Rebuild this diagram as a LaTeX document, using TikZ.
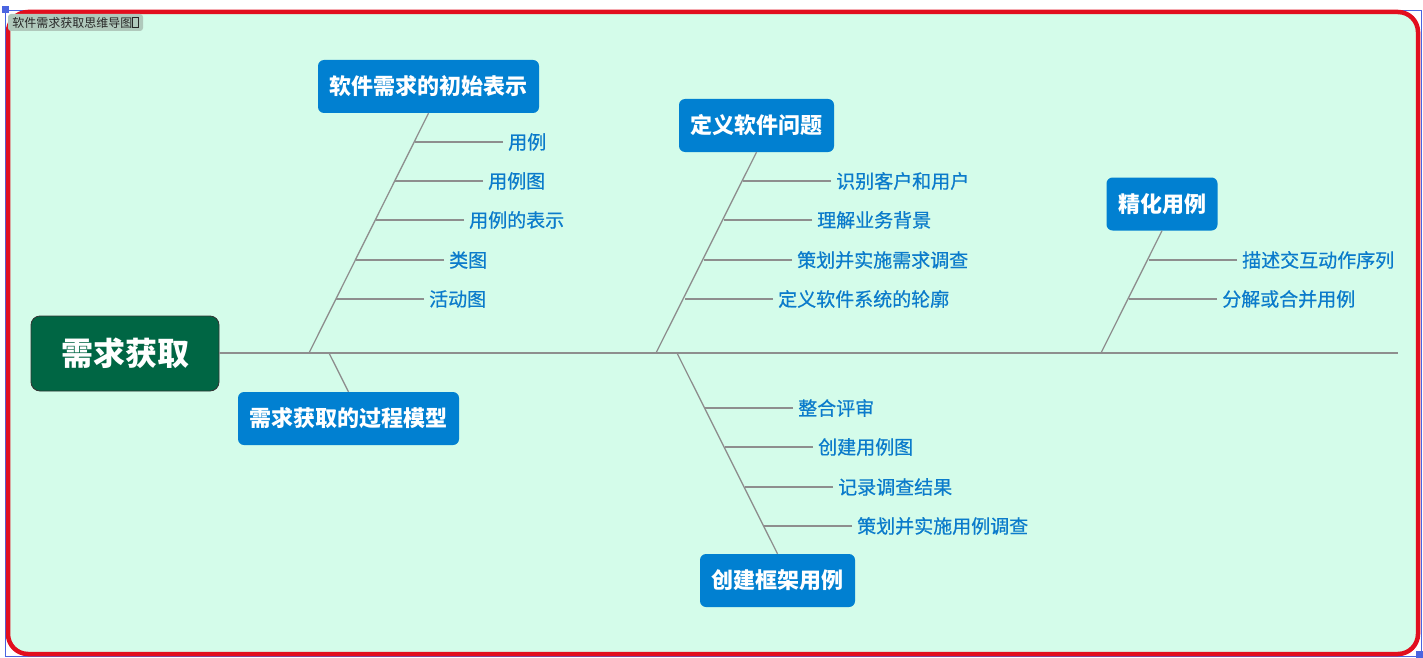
\documentclass[tikz,border=0pt]{standalone}
\usepackage{fontspec}
\newfontfamily\cjk{Noto Sans CJK SC}
\newfontfamily\cjkleaf[FakeBold=0.6]{Noto Sans CJK SC}
\usetikzlibrary{calc}
\definecolor{cFrame}{HTML}{E20E1E}
\definecolor{cSel}{HTML}{4A64E0}
\definecolor{cPaper}{HTML}{D4FCEA}
\definecolor{cRoot}{HTML}{006644}
\definecolor{cTopic}{HTML}{0180D1}
\definecolor{cLeaf}{HTML}{0B7BCB}
\definecolor{cBone}{HTML}{8E8E8E}
\definecolor{cTag}{HTML}{B0C9BC}

\begin{document}
\begin{tikzpicture}[
  x=1pt, y=-1pt,
  font=\cjk,
  root/.style={draw=black!80, fill=cRoot, rounded corners=9pt, line width=.8pt,
               text=white, font=\cjk\bfseries\fontsize{32}{38}\selectfont,
               minimum width=188pt, minimum height=75pt},
  topic/.style={fill=cTopic, rounded corners=6pt, text=white,
                font=\cjk\bfseries\fontsize{22}{26}\selectfont,
                inner xsep=11.5pt, minimum height=53pt},
  leaf/.style={anchor=west, text=cLeaf, font=\cjkleaf\fontsize{19}{23}\selectfont,
               inner xsep=5pt, inner ysep=1pt},
  bone/.style={draw=cBone, line width=1.3pt},
]
\useasboundingbox (0,0) rectangle (1423,658);

% ---------------- frame ----------------
\draw[cSel, line width=.8pt] (5,10) rectangle (1421,656);
\fill[cSel] (2,6) rectangle (9,13);
\fill[cSel] (1416,651) rectangle (1423,658);
\draw[draw=cFrame, fill=cPaper, line width=4.5pt, rounded corners=20pt]
  (8,12) rectangle (1418,654);
\node[fill=cTag, rounded corners=3pt, minimum width=135pt, minimum height=17pt,
      inner sep=0pt, text=black!85, font=\cjk\fontsize{12}{14}\selectfont] (tag) at (75.5,22.5)
  {软件需求获取思维导图{\setlength\fboxsep{0pt}\setlength\fboxrule{.5pt}\fbox{\rule{0pt}{.8em}\hspace{.45em}}}};

% ---------------- root and spine ----------------
\node[root] (root) at (125,353.5) {需求获取};
\coordinate (tail) at (1398,353);
\draw[bone] (root.east |- tail) -- (tail);

\coordinate (s1) at (309,353);
\coordinate (s2) at (329,353);
\coordinate (s3) at (656,353);
\coordinate (s4) at (677,353);
\coordinate (s5) at (1101,353);

% ---------------- main topics ----------------
\node[topic] (b1) at (428.5,86.5) {软件需求的初始表示};
\node[topic] (b2) at (348.5,418.5) {需求获取的过程模型};
\node[topic] (b3) at (756.5,125.5) {定义软件问题};
\node[topic] (b4) at (777.5,580.5) {创建框架用例};
\node[topic] (b5) at (1162,204) {精化用例};

\draw[bone] (s1) -- (b1.south);
\draw[bone] (s2) -- (b2.north);
\draw[bone] (s3) -- (b3.south);
\draw[bone] (s4) -- (b4.north);
\draw[bone] (s5) -- (b5.south);

% ---------------- leaves ----------------
\node[leaf] (l11) at (503,142) {用例};
\node[leaf] (l12) at (483,181) {用例图};
\node[leaf] (l13) at (464,220) {用例的表示};
\node[leaf] (l14) at (444,260) {类图};
\node[leaf] (l15) at (424,299) {活动图};

\node[leaf] (l31) at (831,181) {识别客户和用户};
\node[leaf] (l32) at (812,220) {理解业务背景};
\node[leaf] (l33) at (792,260) {策划并实施需求调查};
\node[leaf] (l34) at (773,299) {定义软件系统的轮廓};

\node[leaf] (l41) at (793,408) {整合评审};
\node[leaf] (l42) at (813,447) {创建用例图};
\node[leaf] (l43) at (833,487) {记录调查结果};
\node[leaf] (l44) at (852,526) {策划并实施用例调查};

\node[leaf] (l51) at (1237,260) {描述交互动作序列};
\node[leaf] (l52) at (1217,299) {分解或合并用例};

\foreach \l in {l11,l12,l13,l14,l15,l31,l32,l33,l34,l41,l42,l43,l44,l51,l52}
  \draw[bone] (\l.west) -- ++(-88.5,0);

\end{tikzpicture}
\end{document}
